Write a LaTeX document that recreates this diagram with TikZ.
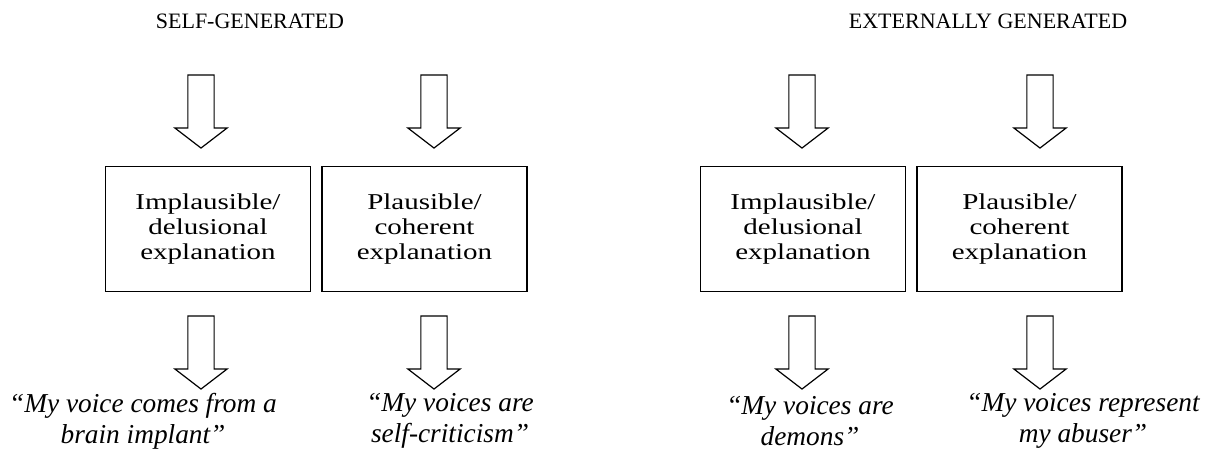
\documentclass[tikz,border=0pt]{standalone}
\usepackage{fontspec}
\setmainfont{Liberation Serif}
\newfontfamily\boxfont[FakeStretch=1.28]{Liberation Serif}
\usetikzlibrary{shapes.arrows, positioning}
\tikzstyle{heading} = [font=\fontsize{16.5}{20}\selectfont, inner sep=0pt]
\tikzstyle{explbox} = [rectangle, minimum width=153.75pt, minimum height=93.75pt, align=center, draw=black, line width=1.1pt, font=\boxfont\fontsize{17}{18.5}\selectfont]
\tikzstyle{blockarrow} = [single arrow, draw=black, line width=0.9pt, rotate=-90, minimum height=54.75pt, inner xsep=0pt, inner ysep=9.4pt, single arrow head extend=9.75pt, single arrow tip angle=105]
\tikzstyle{quote} = [align=center, inner sep=0pt, font=\fontsize{20.5}{23.25}\selectfont\itshape]

\begin{document}
\begin{tikzpicture}[x=0.75pt,y=-0.75pt]
                \useasboundingbox (0,0) rectangle (1208,457);
                \node (self) [heading] at (250,21) {SELF-GENERATED};
                \node (ext) [heading] at (988,21) {EXTERNALLY GENERATED};

                \node (selfimp) [explbox] at (208,229) {Implausible/\\delusional\\explanation};
                \node (selfpla) [explbox, right=7.5pt of selfimp] {Plausible/\\coherent\\explanation};
                \node (extimp) [explbox] at (803,229) {Implausible/\\delusional\\explanation};
                \node (extpla) [explbox, right=7.5pt of extimp] {Plausible/\\coherent\\explanation};

                % arrows into the boxes
                \node (selfimpin) [blockarrow] at (201,106.5) {};
                \node (selfplain) [blockarrow] at (434,106.5) {};
                \node (extimpin) [blockarrow] at (802,106.5) {};
                \node (extplain) [blockarrow] at (1040,106.5) {};

                % arrows out of the boxes
                \node (selfimpout) [blockarrow] at (201,347.5) {};
                \node (selfplaout) [blockarrow] at (434,347.5) {};
                \node (extimpout) [blockarrow] at (802,347.5) {};
                \node (extplaout) [blockarrow] at (1040,347.5) {};

                \node (selfimpq) [quote] at (143,421) {“My voice comes from a\\brain implant”};
                \node (selfplaq) [quote] at (450,421) {“My voices are\\self-criticism”};
                \node (extimpq) [quote] at (810,421) {“My voices are\\demons”};
                \node (extplaq) [quote] at (1083,421) {“My voices represent\\my abuser”};
            \end{tikzpicture}
\end{document}
